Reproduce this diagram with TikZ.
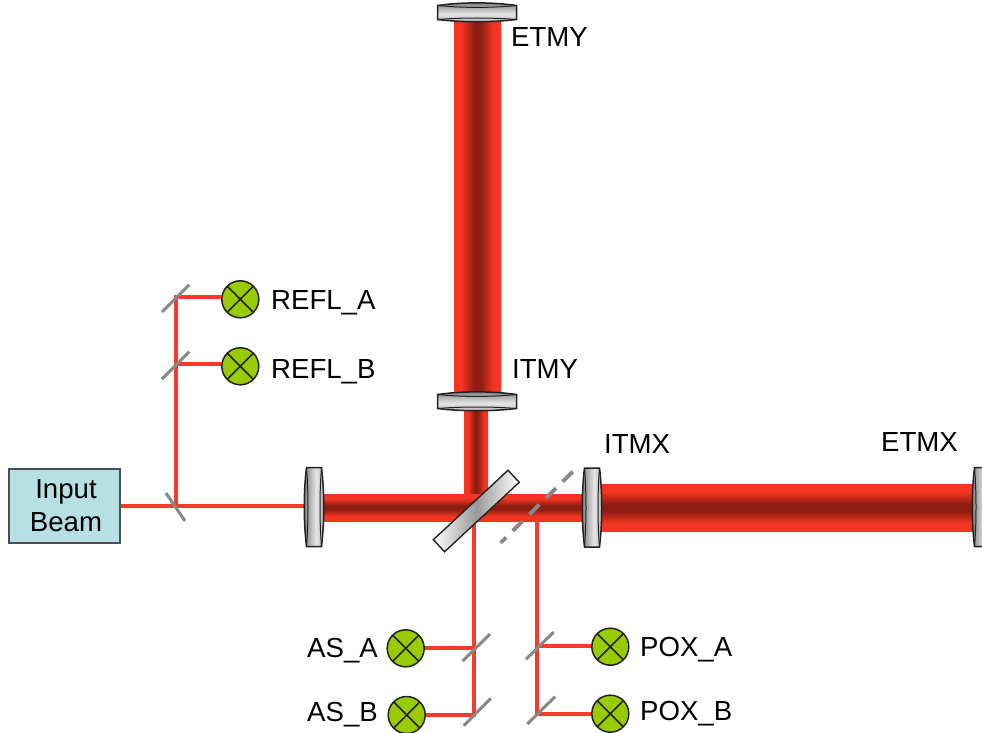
\documentclass[tikz,border=0pt]{standalone}
\usepackage{fontspec}
\setmainfont{Liberation Sans}
\definecolor{beamr}{HTML}{F53522}
\definecolor{beamd}{HTML}{8C1D10}
\definecolor{ray}{HTML}{F83A2A}
\definecolor{thin}{HTML}{888888}
\definecolor{det}{HTML}{99CC00}
\definecolor{boxc}{HTML}{B7E0E4}
\definecolor{edgec}{HTML}{222222}
\definecolor{mira}{HTML}{858585}
\definecolor{mirb}{HTML}{E6E6E6}
\definecolor{mirc}{HTML}{B0B0B0}
\pgfdeclareverticalshading{beamshade}{100bp}{color(0bp)=(beamr); color(33bp)=(beamr); color(47bp)=(beamd); color(53bp)=(beamd); color(67bp)=(beamr); color(100bp)=(beamr)}
\pgfdeclareverticalshading{mirrorshade}{100bp}{color(0bp)=(mira); color(27bp)=(mira); color(55bp)=(mirb); color(75bp)=(mirc); color(100bp)=(mirc)}
\tikzset{
  beamh/.style={shading=beamshade},
  beamv/.style={shading=beamshade,shading angle=90},
  rayline/.style={draw=ray,line width=3.8pt},
  thinmir/.style={draw=thin,line width=3pt},
  dashmir/.style={draw=thin,line width=3.8pt,dash pattern=on 14pt off 9.4pt},
  detector/.style={circle,draw=edgec,line width=1.5pt,fill=det,minimum size=37pt,inner sep=0pt,
    path picture={\draw[edgec,line width=1.6pt] (path picture bounding box.north west)--(path picture bounding box.south east)
      (path picture bounding box.north east)--(path picture bounding box.south west);}},
  lbl/.style={font=\fontsize{27.6}{33}\selectfont,anchor=base west,inner sep=0pt,text=black},
  mirline/.style={draw=edgec,line width=1.5pt},
  vlens/.pic={
    \path[mirline,shading=mirrorshade,shading angle=-90] (-7.5,-39.5) -- (7.5,-39.5) .. controls (10.5,-15) and (10.5,15) .. (7.5,39.5) -- (-7.5,39.5) .. controls (-10.5,15) and (-10.5,-15) .. (-7.5,-39.5) -- cycle;
    \draw[mirline,line width=1pt] (-7.5,-39.5) .. controls (-5.5,-15) and (-5.5,15) .. (-7.5,39.5) (7.5,-39.5) .. controls (5.5,-15) and (5.5,15) .. (7.5,39.5);
  },
  hlens/.pic={
    \path[mirline,shading=mirrorshade,shading angle=180] (-39.5,-7) .. controls (-15,-10.5) and (15,-10.5) .. (39.5,-7) -- (39.5,7) .. controls (15,10) and (-15,10) .. (-39.5,7) -- cycle;
    \draw[mirline,line width=1pt] (-39.5,-7) .. controls (-15,-4.5) and (15,-4.5) .. (39.5,-7) (-39.5,7) .. controls (-15,5) and (15,5) .. (39.5,7);
  }
}
\begin{document}
\begin{tikzpicture}[x=1pt,y=-1pt]
\useasboundingbox (0,0) rectangle (982,733);
\clip (0,0) rectangle (982,733);
% beams
\shade[beamv] (454,20) rectangle (501,393);
\shade[beamv] (464,409) rectangle (488,496);
\shade[beamh] (322,494) rectangle (585,521);
\shade[beamh] (600,484) rectangle (974,531);
% named anchors
\coordinate (bsout) at (473.7,511);
\coordinate (poxout) at (536.7,520);
\coordinate (splitin) at (176,506);
\coordinate (reflA) at (176,297);
\coordinate (reflB) at (176,364);
\coordinate (asA) at (473.7,648.3);
\coordinate (asB) at (473.7,715);
\coordinate (poxA) at (536.7,646);
\coordinate (poxB) at (536.7,713.7);
% components
\node[draw=edgec!80!white,line width=1.3pt,fill=boxc,minimum width=111pt,minimum height=74pt,inner sep=0pt,align=center,font=\fontsize{27.6}{33}\selectfont,text=black] (input) at (64.5,506) {\hspace{3pt}Input\\\hspace{3pt}Beam};
\coordinate (inmir) at (305,506);
\node[detector] (dreflA) at (240.3,299.3) {};
\node[detector] (dreflB) at (240.3,366.3) {};
\node[detector] (dasA) at (405.7,648.3) {};
\node[detector] (dasB) at (406.7,715) {};
\node[detector] (dpoxA) at (610.3,646.7) {};
\node[detector] (dpoxB) at (610.3,713.7) {};
% rays
\draw[rayline] (input.east) -- (inmir);
\draw[rayline] (splitin) -- (reflA) -- (dreflA.west |- reflA);
\draw[rayline] (reflB) -- (dreflB.west |- reflB);
\draw[rayline] (bsout) -- (asB) -- (dasB.east |- asB);
\draw[rayline] (asA) -- (dasA.east |- asA);
\draw[rayline] (poxout) -- (poxB) -- (dpoxB.west |- poxB);
\draw[rayline] (poxA) -- (dpoxA.west |- poxA);
% pickoff mirrors
\draw[thinmir] (166,493) -- (185,521);
\draw[thinmir] (189.3,284.7) -- (162,312);
\draw[thinmir] (189.3,351.7) -- (162,379);
\draw[thinmir] (490,634) -- (462.7,661);
\draw[thinmir] (491,698.3) -- (463.7,725.7);
\draw[thinmir] (553.7,632) -- (526,659.3);
\draw[thinmir] (555,696.7) -- (527.3,724);
\draw[dashmir] (572.7,471.7) -- (500.7,542.7);
% lenses
\pic at (314,507) {vlens};
\pic at (592,507.5) {vlens};
\pic at (982,507) {vlens};
\pic at (477,12.5) {hlens};
\pic at (477,401.5) {hlens};
% beam splitter
\node[rotate=42.9,draw=edgec,line width=1.4pt,minimum width=102pt,minimum height=16.5pt,inner sep=0pt,left color=white,right color=white,middle color=black!40] (BS) at (476.3,511) {};
% labels
\node[lbl] (tETMY) at (511,47) {ETMY};
\node[lbl] (tITMY) at (512,378) {ITMY};
\node[lbl] (tITMX) at (604,453) {ITMX};
\node[lbl] (tETMX) at (881,451) {ETMX};
\node[lbl] (tREFLA) at (271,309) {REFL\_A};
\node[lbl] (tREFLB) at (271,378) {REFL\_B};
\node[lbl] (tASA) at (307,657) {AS\_A};
\node[lbl] (tASB) at (307,721) {AS\_B};
\node[lbl] (tPOXA) at (640,656) {POX\_A};
\node[lbl] (tPOXB) at (640,720) {POX\_B};
\end{tikzpicture}
\end{document}
